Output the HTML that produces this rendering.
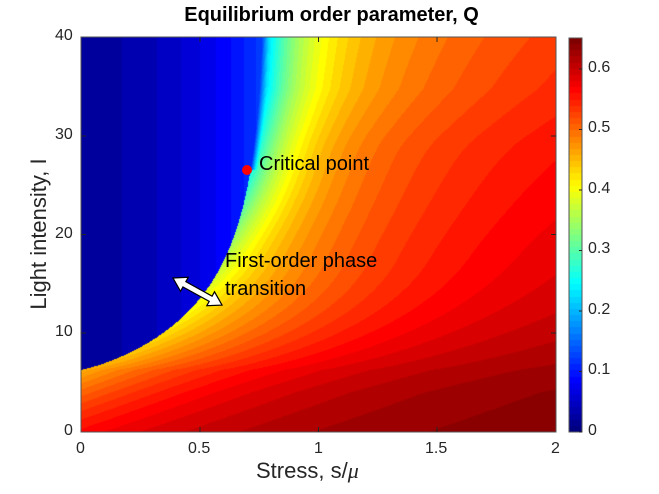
<!DOCTYPE html><html><head><style>
body{margin:0;background:#fff;width:659px;height:494px;overflow:hidden;position:relative;font-family:"Liberation Sans",Arial,sans-serif}
.t{position:absolute;font-size:16px;color:#262626}
</style></head><body>
<canvas id="c" width="475" height="395" style="position:absolute;left:81px;top:37px"></canvas>
<canvas id="cb" width="13" height="394" style="position:absolute;left:569px;top:38px"></canvas>
<svg width="659" height="494" style="position:absolute;left:0;top:0">
<g stroke="#262626" stroke-width="1" fill="none">
<rect x="81" y="37" width="475" height="395" stroke="#555"/>
<path d="M200 432v-5M318.5 432v-5M437 432v-5M200 37v5M318.5 37v5M437 37v5M81 333h5M81 234.5h5M81 136h5M556 333h-5M556 234.5h-5M556 136h-5"/>
<rect x="569" y="38" width="13" height="394" stroke="#555"/>
<path d="M582 432h-3M582 371.5h-3M582 311h-3M582 250.5h-3M582 190h-3M582 129.5h-3M582 69h-3"/>
</g>
<circle cx="247" cy="170" r="5" fill="#f00"/>
<g transform="translate(173,278) rotate(28.9)">
<polygon points="0,0 13,-8 13,-3 43,-3 43,-8 56,0 43,8 43,3 13,3 13,8" fill="#fff" stroke="#000" stroke-width="1.2"/>
</g>
</svg>
<div style="position:absolute;left:0;width:659px;top:4px;text-align:center;font-weight:bold;font-size:20px;color:#000;padding-left:2px">Equilibrium order parameter, Q</div>
<div class="t" style="left:259px;top:153px;font-size:20px;color:#000">Critical point</div>
<div class="t" style="left:225px;top:247px;font-size:20px;color:#000;line-height:28px">First-order phase<br>transition</div>
<div class="t" style="left:76px;top:440px">0</div>
<div class="t" style="left:188px;top:440px">0.5</div>
<div class="t" style="left:314px;top:440px">1</div>
<div class="t" style="left:425px;top:440px">1.5</div>
<div class="t" style="left:551px;top:440px">2</div>
<div class="t" style="left:64px;top:422px">0</div>
<div class="t" style="left:55px;top:323px">10</div>
<div class="t" style="left:55px;top:225px">20</div>
<div class="t" style="left:55px;top:126px">30</div>
<div class="t" style="left:55px;top:27px">40</div>
<div class="t" style="left:588px;top:422px">0</div>
<div class="t" style="left:588px;top:361px">0.1</div>
<div class="t" style="left:588px;top:301px">0.2</div>
<div class="t" style="left:588px;top:240px">0.3</div>
<div class="t" style="left:588px;top:180px">0.4</div>
<div class="t" style="left:588px;top:119px">0.5</div>
<div class="t" style="left:588px;top:59px">0.6</div>
<div class="t" style="left:256px;top:458px;font-size:22px">Stress, s/<i style="font-family:'Liberation Serif',serif">μ</i></div>
<div class="t" style="left:39px;top:234px;font-size:22px;transform:translate(-50%,-50%) rotate(-90deg);white-space:nowrap">Light intensity, I</div>
<script>
function jet(v){v=Math.max(0,Math.min(1,v));const c=x=>Math.round(255*Math.max(0,Math.min(1,x)));return [c(1.5-Math.abs(4*v-3)),c(1.5-Math.abs(4*v-2)),c(1.5-Math.abs(4*v-1))];}
function b(I){if(I<6.3)return -(6.3-I)*0.07;return 0.78*(1-Math.exp(-Math.pow((I-6.3)/7,0.85)));}
function sm(x){return x<=0?0:x>=1?1:x*x*(3-2*x);}
function Q(s,I){const t=s-b(I);const ql=0.02+0.17*s*s;if(t<0)return ql;
 let qb=0.51-0.0085*I-0.035*sm((I-18)/10);qb=Math.max(0.18,qb);
 if(I>26.5){qb=ql+(qb-ql)*Math.min(1,t/0.03);}
 const qi=0.655-0.0022*Math.max(0,I-4);
 const w=0.55*sm((I-6)/24);
 const f=w*(1-Math.exp(-t/0.15))+(1-w)*(1-Math.exp(-t/0.9));
 return qb+(qi-qb)*f;}
const cv=document.getElementById('c'),ctx=cv.getContext('2d'),W=475,H=395,im=ctx.createImageData(W,H);
for(let y=0;y<H;y++)for(let x=0;x<W;x++){const s=(x+0.5)/W*2,I=40*(1-(y+0.5)/H);let q=Q(s,I);q=Math.floor(q/0.0125)*0.0125+0.006;const c=jet(q/0.65),k=(y*W+x)*4;im.data[k]=c[0];im.data[k+1]=c[1];im.data[k+2]=c[2];im.data[k+3]=255;}
ctx.putImageData(im,0,0);
const cb=document.getElementById('cb'),cc=cb.getContext('2d');
for(let y=0;y<394;y++){const v=Math.floor((1-(y+0.5)/394)*64)/63;const c=jet(v);cc.fillStyle=`rgb(${c})`;cc.fillRect(0,y,13,1);}
</script>
</body></html>
